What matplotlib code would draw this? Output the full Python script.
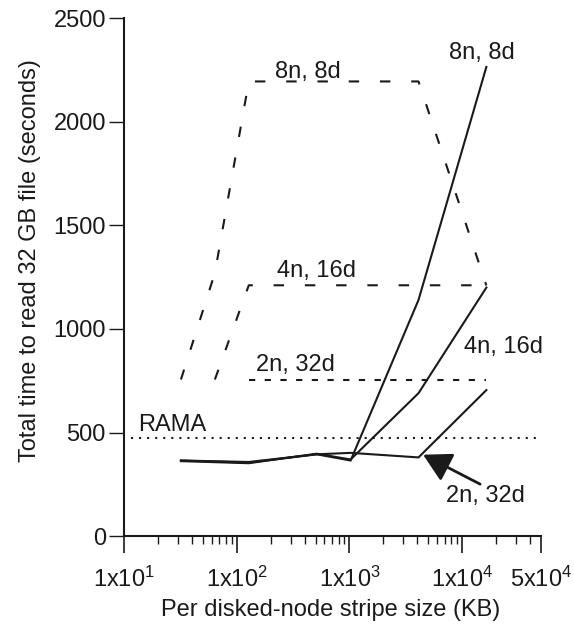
import matplotlib
matplotlib.use('Agg')
import matplotlib.pyplot as plt
from matplotlib.ticker import LogLocator, FixedLocator, NullFormatter, FixedFormatter

plt.rcParams['font.family'] = ['Liberation Sans', 'DejaVu Sans']
plt.rcParams['mathtext.fontset'] = 'custom'
plt.rcParams['mathtext.rm'] = 'Liberation Sans'
plt.rcParams['lines.scale_dashes'] = False

# ---- data ----
stripe_kb = [32, 128, 512, 1024, 4096, 16384]
meas_8n8d = [365, 355, 395, 365, 1140, 2265]
meas_4n16d = [362, 352, 398, 370, 690, 1200]
meas_2n32d = [365, 358, 395, 402, 380, 705]

model_8n8d_x = [32, 64, 128, 4096, 16384]
model_8n8d_y = [756, 1270, 2195, 2195, 1210]
model_4n16d_x = [64, 128, 16384]
model_4n16d_y = [756, 1211, 1211]
model_2n32d_x = [128, 16384]
model_2n32d_y = [756, 756]

rama_x = [11.5, 50000]
rama_y = [475, 475]

xtick_vals = [10, 100, 1000, 10000, 50000]
xtick_labels = [r'$\mathregular{1x10^{1}}$', r'$\mathregular{1x10^{2}}$',
                r'$\mathregular{1x10^{3}}$', r'$\mathregular{1x10^{4}}$',
                r'$\mathregular{5x10^{4}}$']
ytick_vals = [0, 500, 1000, 1500, 2000, 2500]
ytick_labels = ['0', '500', '1000', '1500', '2000', '2500']

INK = '#1a1a1a'
FS = 17

fig = plt.figure(figsize=(5.74, 6.30), dpi=100)
ax = fig.add_axes([0.216, 0.149, 0.7265, 0.822])
ax.set_xscale('log')
ax.set_xlim(10, 50000)
ax.set_ylim(0, 2500)

lw = 1.5
# measured (solid)
ax.plot(stripe_kb, meas_8n8d, color=INK, lw=lw, solid_joinstyle='miter')
ax.plot(stripe_kb, meas_4n16d, color=INK, lw=lw, solid_joinstyle='miter')
ax.plot(stripe_kb, meas_2n32d, color=INK, lw=lw, solid_joinstyle='miter')

# model (dashed)
ax.plot(model_8n8d_x, model_8n8d_y, color=INK, lw=lw, dashes=(7.5, 15))
ax.plot(model_4n16d_x, model_4n16d_y, color=INK, lw=lw, dashes=(7.5, 15))
ax.plot(model_2n32d_x, model_2n32d_y, color=INK, lw=lw, dashes=(4.5, 6.8))

# RAMA (dotted)
ax.plot(rama_x, rama_y, color=INK, lw=lw, dashes=(1.5, 4.3))

# labels
ax.text(430, 2239, '8n, 8d', fontsize=FS, color=INK, ha='center', va='center')
ax.text(14930, 2330, '8n, 8d', fontsize=FS, color=INK, ha='center', va='center')
ax.text(513, 1280, '4n, 16d', fontsize=FS, color=INK, ha='center', va='center')
ax.text(329, 825, '2n, 32d', fontsize=FS, color=INK, ha='center', va='center')
ax.text(23070, 914, '4n, 16d', fontsize=FS, color=INK, ha='center', va='center')
ax.text(13.3, 536, 'RAMA', fontsize=FS, color=INK, ha='left', va='center')
ax.text(15960, 193, '2n, 32d', fontsize=FS, color=INK, ha='center', va='center')
ax.annotate('', xy=(4500, 393), xytext=(14420, 251),
            arrowprops=dict(arrowstyle='-|>,head_length=0.85,head_width=0.47',
                            mutation_scale=20, color=INK, lw=2,
                            shrinkA=0, shrinkB=0))

# axes styling
for s in ('top', 'right'):
    ax.spines[s].set_visible(False)
for s in ('left', 'bottom'):
    ax.spines[s].set_linewidth(1.5)
    ax.spines[s].set_color(INK)

ax.xaxis.set_major_locator(FixedLocator(xtick_vals))
ax.xaxis.set_major_formatter(FixedFormatter(xtick_labels))
ax.xaxis.set_minor_locator(LogLocator(base=10, subs=range(2, 10), numticks=20))
ax.xaxis.set_minor_formatter(NullFormatter())
ax.yaxis.set_major_locator(FixedLocator(ytick_vals))
ax.yaxis.set_major_formatter(FixedFormatter(ytick_labels))

ax.tick_params(axis='x', which='major', direction='out', length=12, width=1.2,
               color=INK, labelsize=FS, labelcolor=INK, pad=10)
ax.tick_params(axis='x', which='minor', direction='out', length=6, width=1.0, color=INK)
ax.tick_params(axis='y', which='major', direction='out', length=11, width=1.0,
               color=INK, labelsize=FS, labelcolor=INK, pad=2)

ax.set_xlabel('Per disked-node stripe size (KB)', fontsize=FS, color=INK)
ax.set_ylabel('Total time to read 32 GB file (seconds)', fontsize=FS, color=INK)
ax.xaxis.set_label_coords(0.496, -0.122)
ax.yaxis.set_label_coords(-0.198, 0.533)

fig.savefig('out.png', dpi=100)
